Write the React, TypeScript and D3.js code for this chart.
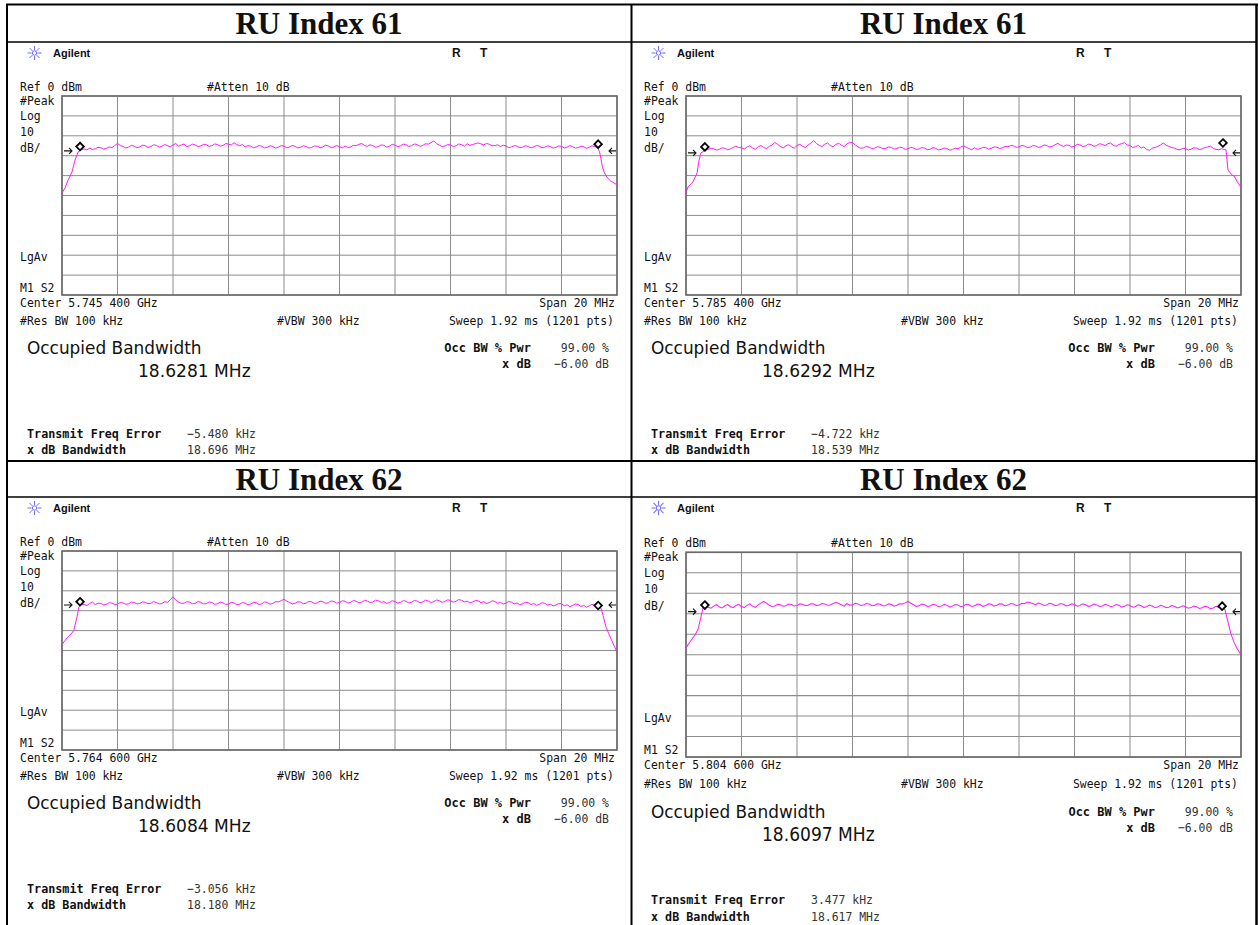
import * as d3 from 'd3';

// --- data ---
const titles = ['RU Index 61', 'RU Index 61', 'RU Index 62', 'RU Index 62'];
const centers = ['Center 5.745 400 GHz', 'Center 5.785 400 GHz', 'Center 5.764 600 GHz', 'Center 5.804 600 GHz'];
const occBw = ['18.6281 MHz', '18.6292 MHz', '18.6084 MHz', '18.6097 MHz'];
const freqErr = ['\u22125.480 kHz', '\u22124.722 kHz', '\u22123.056 kHz', '3.477 kHz'];
const xdbBw = ['18.696 MHz', '18.539 MHz', '18.180 MHz', '18.617 MHz'];

// flat part of each trace, dBm, sampled evenly from -9.2 to +9.2 MHz
const plateau61a = [
  -26.6, -27.1, -26.2, -26.9, -26.5, -25.8, -26.0, -26.7, -26.3, -25.6,
  -25.9, -24.9, -23.8, -24.9, -25.3, -26.1, -25.7, -24.8, -25.2, -26.0,
  -25.6, -24.7, -25.0, -25.9, -25.4, -24.5, -24.8, -25.7, -25.3, -24.4,
  -24.9, -25.6, -24.6, -23.9, -25.2, -24.6, -24.1, -25.5, -25.0, -24.2,
  -24.6, -25.4, -25.1, -24.3, -24.5, -25.3, -25.0, -24.1, -24.4, -25.2,
  -24.9, -23.9, -24.2, -24.6, -23.5, -24.4, -25.0, -24.4, -25.5, -24.9,
  -25.2, -26.0, -25.6, -24.9, -25.3, -26.1, -25.8, -25.0, -25.4, -26.2,
  -25.7, -24.9, -25.2, -26.0, -25.6, -24.8, -25.3, -26.1, -25.7, -25.0,
  -25.4, -26.2, -25.8, -25.1, -25.3, -26.0, -25.6, -24.7, -25.2, -25.9,
  -25.6, -24.9, -25.5, -26.1, -25.1, -25.9, -25.6, -24.8, -25.0, -24.3,
  -23.9, -24.8, -25.3, -24.5, -24.9, -25.8, -25.4, -24.6, -24.8, -25.7,
  -25.2, -24.3, -24.7, -25.5, -25.0, -24.2, -24.5, -25.4, -24.9, -24.1,
  -24.4, -25.3, -24.8, -24.0, -24.2, -23.4, -22.6, -24.0, -24.7, -25.5,
  -25.1, -24.4, -24.6, -25.4, -25.0, -24.1, -24.5, -25.2, -24.0, -24.8,
  -24.4, -23.9, -23.6, -24.1, -24.6, -23.8, -24.3, -25.0, -24.9, -24.5,
  -25.4, -24.7, -25.1, -25.9, -25.6, -24.9, -25.2, -26.0, -25.7, -25.0,
  -25.3, -26.1, -25.6, -24.9, -25.2, -26.0, -25.7, -25.0, -25.4, -26.2,
  -25.8, -25.1, -25.3, -26.1, -25.7, -24.9, -25.4, -26.2, -25.9, -25.2,
  -25.5, -26.3, -25.8, -25.0, -25.4,
];
const plateau61b = [
  -26.9, -26.2, -26.5, -27.2, -26.8, -26.0, -26.3, -27.0, -26.6, -25.9,
  -25.2, -25.9, -26.0, -26.7, -25.6, -25.0, -26.1, -26.8, -25.5, -24.9,
  -25.9, -26.4, -25.3, -24.6, -23.4, -24.3, -25.4, -26.1, -25.0, -24.5,
  -25.5, -26.2, -24.9, -24.3, -25.3, -25.9, -24.6, -23.7, -22.4, -23.9,
  -24.8, -25.4, -24.2, -23.6, -24.9, -25.5, -24.4, -23.7, -24.8, -25.4,
  -24.1, -23.2, -23.4, -24.6, -25.6, -26.3, -26.0, -25.3, -25.7, -26.4,
  -26.2, -25.5, -25.8, -26.5, -26.3, -25.6, -25.9, -26.7, -26.4, -25.7,
  -26.0, -26.8, -26.5, -25.8, -26.1, -26.9, -26.6, -25.9, -26.2, -27.0,
  -26.7, -26.0, -26.3, -27.1, -26.8, -26.1, -26.4, -27.2, -26.9, -26.2,
  -26.5, -25.7, -25.0, -25.8, -26.4, -27.0, -26.0, -26.8, -26.5, -25.8,
  -25.9, -26.7, -26.3, -25.6, -25.7, -26.4, -26.1, -25.3, -25.5, -24.9,
  -25.0, -25.8, -25.6, -24.8, -25.2, -25.9, -25.7, -24.9, -25.1, -25.8,
  -25.5, -24.6, -24.9, -25.6, -25.3, -24.5, -23.8, -24.7, -25.4, -24.6,
  -24.8, -25.6, -25.2, -24.3, -24.6, -25.4, -25.1, -24.2, -24.5, -25.3,
  -24.9, -24.0, -24.3, -24.9, -24.0, -23.6, -24.8, -25.3, -24.4, -23.9,
  -23.5, -24.6, -24.9, -25.8, -25.5, -24.8, -26.1, -25.6, -26.9, -27.3,
  -26.3, -25.8, -25.4, -24.6, -23.6, -24.7, -25.3, -25.9, -26.2, -26.8,
  -27.0, -26.3, -26.4, -27.1, -26.8, -26.0, -26.2, -26.9, -26.6, -25.9,
  -25.6, -25.2, -26.3, -26.8, -27.0,
];
const plateau62a = [
  -26.8, -27.4, -26.3, -25.7, -26.9, -26.2, -26.4, -27.1, -26.8, -26.0,
  -26.2, -26.9, -26.7, -25.9, -26.1, -26.8, -26.5, -25.7, -25.9, -26.6,
  -26.4, -25.6, -25.8, -26.5, -26.3, -25.4, -25.9, -26.6, -26.4, -25.5,
  -25.8, -24.6, -23.0, -24.7, -25.6, -26.4, -26.2, -25.5, -25.7, -26.5,
  -26.3, -25.4, -25.8, -26.6, -26.4, -25.6, -25.9, -26.8, -26.5, -25.7,
  -26.0, -26.9, -26.6, -25.8, -26.1, -27.0, -26.7, -25.9, -26.2, -27.0,
  -26.6, -25.8, -26.0, -26.9, -26.5, -25.6, -25.9, -26.7, -26.3, -25.4,
  -25.6, -24.9, -24.3, -25.2, -25.8, -26.6, -26.3, -25.5, -25.7, -26.5,
  -26.2, -25.3, -25.6, -26.4, -26.1, -25.2, -25.5, -26.3, -26.0, -25.1,
  -25.4, -26.2, -25.9, -25.0, -25.3, -26.1, -25.8, -24.9, -25.2, -26.0,
  -25.7, -24.8, -25.1, -25.9, -25.6, -24.7, -25.0, -25.8, -25.5, -26.3,
  -25.9, -25.0, -25.4, -26.2, -25.8, -24.9, -25.3, -26.1, -25.7, -24.8,
  -25.2, -26.0, -25.6, -24.7, -25.1, -25.9, -25.5, -24.6, -25.0, -25.8,
  -25.4, -24.5, -24.9, -25.7, -25.3, -24.4, -24.8, -25.6, -25.2, -26.1,
  -25.6, -24.8, -25.1, -26.0, -25.5, -26.4, -25.9, -25.0, -25.4, -26.3,
  -25.8, -26.7, -26.2, -25.4, -25.7, -26.6, -26.1, -27.0, -26.5, -25.7,
  -26.0, -26.9, -26.4, -27.3, -26.8, -26.0, -26.3, -27.2, -26.7, -27.6,
  -27.1, -26.4, -26.6, -27.5, -27.0, -28.0, -27.4, -26.6, -26.9, -27.9,
  -27.3, -28.2, -27.6, -26.8, -27.2,
];
const plateau62b = [
  -26.8, -27.3, -26.3, -25.6, -26.7, -27.2, -26.1, -25.5, -26.6, -27.1,
  -26.0, -25.4, -26.5, -27.0, -25.9, -25.2, -26.3, -26.9, -25.7, -24.8,
  -24.0, -24.9, -25.8, -26.5, -26.2, -25.4, -25.6, -26.3, -26.1, -25.3,
  -25.5, -26.2, -26.0, -25.2, -25.4, -26.1, -25.9, -25.1, -25.3, -26.0,
  -25.8, -25.0, -25.2, -25.9, -25.7, -25.0, -24.4, -25.0, -25.6, -26.3,
  -25.1, -25.8, -25.7, -24.9, -25.2, -26.0, -25.8, -25.0, -25.3, -26.1,
  -25.9, -25.1, -25.4, -26.2, -26.0, -25.2, -25.5, -26.3, -25.9, -25.1,
  -25.3, -24.7, -24.0, -24.9, -25.6, -26.4, -26.1, -25.3, -25.6, -26.5,
  -26.2, -25.4, -25.7, -26.6, -26.3, -25.5, -25.8, -26.7, -26.3, -25.5,
  -25.7, -26.6, -26.2, -25.4, -25.6, -26.5, -26.1, -25.3, -25.5, -26.4,
  -26.0, -25.2, -25.4, -26.3, -25.9, -25.1, -25.3, -26.2, -25.8, -25.0,
  -25.2, -26.1, -25.7, -24.9, -25.1, -24.3, -24.6, -25.0, -25.6, -24.8,
  -25.2, -26.0, -25.7, -24.9, -25.3, -26.1, -25.8, -25.0, -25.4, -26.2,
  -25.9, -25.1, -25.5, -26.3, -26.0, -25.2, -25.6, -26.4, -26.1, -25.3,
  -25.7, -26.5, -26.2, -25.4, -25.8, -26.6, -26.3, -25.5, -25.9, -26.7,
  -26.4, -25.6, -26.0, -26.8, -26.5, -25.7, -26.1, -26.9, -26.6, -25.8,
  -26.2, -27.0, -26.7, -25.9, -26.3, -27.1, -26.8, -26.0, -26.4, -27.2,
  -26.9, -26.1, -26.5, -27.3, -27.0, -26.2, -26.6, -27.4, -27.1, -26.3,
  -26.7, -27.5, -27.2, -26.4, -26.9,
];
const plateaus = [plateau61a, plateau61b, plateau62a, plateau62b];

// band edges: [MHz, dBm]
const leftEdges = [
  [[-10, -48.7], [-9.89, -46.2], [-9.78, -42.2], [-9.64, -38.2], [-9.53, -32.2], [-9.42, -28.1], [-9.3, -27.1]],
  [[-10, -48.7], [-9.93, -45.7], [-9.75, -43.2], [-9.6, -38.7], [-9.53, -32.2], [-9.46, -28.6], [-9.3, -27.1]],
  [[-10, -47.0], [-9.82, -43.7], [-9.64, -41.2], [-9.57, -39.7], [-9.46, -33.2], [-9.39, -28.1], [-9.3, -26.9]],
  [[-10, -46.7], [-9.86, -43.8], [-9.68, -40.4], [-9.57, -37.9], [-9.46, -31.6], [-9.39, -27.2], [-9.3, -26.6]],
];
const rightEdges = [
  [[9.3, -26.0], [9.37, -28.0], [9.41, -30.7], [9.48, -36.0], [9.55, -38.7], [9.66, -41.2], [9.77, -42.7], [9.84, -43.2], [10, -44.7]],
  [[9.3, -26.5], [9.46, -27.1], [9.53, -37.2], [9.68, -39.7], [9.75, -40.2], [9.86, -43.0], [10, -45.9]],
  [[9.3, -27.8], [9.42, -28.6], [9.5, -32.5], [9.6, -38.0], [9.7, -41.5], [9.8, -44.6], [9.9, -47.8], [10, -50.8]],
  [[9.3, -27.0], [9.42, -28.0], [9.53, -34.0], [9.64, -40.0], [9.75, -44.0], [9.86, -47.0], [10, -50.0]],
];
const markers = [
  [[-9.35, -25.4], [9.32, -24.2]],
  [[-9.32, -25.6], [9.35, -23.6]],
  [[-9.35, -25.5], [9.32, -27.4]],
  [[-9.32, -25.8], [9.32, -26.3]],
];
const arrowLevels = [-27.6, -28.6, -27.1, -29.0];

// where each screenshot sits in the table (last one is slightly stretched)
const placements = [
  { dx: 0, dy: 0, sy: 1 },
  { dx: 624, dy: 0, sy: 1 },
  { dx: 0, dy: 455, sy: 1 },
  { dx: 624, dy: 453.5, sy: 1.029 },
];

const MONO = '"DejaVu Sans Mono", monospace';
const SANS = '"DejaVu Sans", sans-serif';
const ARIAL = '"Liberation Sans", Arial, sans-serif';

function T({ x, y, s, anchor = 'start', size = 12.5, sx = 0.915, bold = false, family = MONO, fill = '#111' }: any) {
  return (
    <text
      transform={`translate(${x},${y}) scale(${sx},1)`}
      textAnchor={anchor}
      fontFamily={family}
      fontSize={size}
      fontWeight={bold ? 'bold' : 'normal'}
      fill={fill}
    >
      {s}
    </text>
  );
}

function Star({ cx, cy }: { cx: number; cy: number }) {
  const rays = d3.range(0, 8).map((k) => (k * Math.PI) / 4);
  return (
    <g stroke="#6d6dff" strokeWidth={1}>
      {rays.map((a, k) => (
        <line key={k} x1={cx + Math.cos(a) * 3} y1={cy + Math.sin(a) * 3} x2={cx + Math.cos(a) * 7} y2={cy + Math.sin(a) * 7} />
      ))}
      <circle cx={cx} cy={cy} r={2.2} fill="none" />
    </g>
  );
}

function Panel({ idx }: { idx: number }) {
  const { dx, dy, sy } = placements[idx];
  const x = d3.scaleLinear().domain([-10, 10]).range([62, 617]);
  const y = d3.scaleLinear().domain([-100, 0]).range([295, 96]);

  const flat = plateaus[idx];
  const fStep = 18.4 / (flat.length - 1);
  const trace = [
    ...leftEdges[idx],
    ...flat.map((v, i) => [-9.2 + i * fStep, v]),
    ...rightEdges[idx],
  ];
  const line = d3
    .line<number[]>()
    .x((d) => x(d[0]))
    .y((d) => y(d[1]));

  const xTicks = d3.range(-10, 10.01, 2);
  const yTicks = d3.range(-100, 0.01, 10);
  const ay = y(arrowLevels[idx]);

  return (
    <g transform={`translate(${dx},${dy}) scale(1,${sy})`}>
      <Star cx={34.5} cy={53} />
      <text x={53} y={57} fontFamily={ARIAL} fontSize={11} fontWeight="bold" fill="#111">
        Agilent
      </text>
      <text x={452} y={57} fontFamily={ARIAL} fontSize={12} fontWeight="bold" fill="#111">R</text>
      <text x={480} y={57} fontFamily={ARIAL} fontSize={12} fontWeight="bold" fill="#111">T</text>

      <T x={20} y={90.5} s="Ref 0 dBm" />
      <T x={207} y={90.5} s="#Atten 10 dB" />
      <T x={20} y={104.5} s="#Peak" />
      <T x={20} y={120} s="Log" />
      <T x={20} y={136} s="10" />
      <T x={20} y={152} s="dB/" />
      <T x={20} y={261} s="LgAv" />
      <T x={20} y={292} s="M1 S2" />

      {/* grid */}
      <g stroke="#8c8c8c" strokeWidth={1}>
        {xTicks.map((t) => (
          <line key={'x' + t} x1={x(t)} x2={x(t)} y1={y(-100)} y2={y(0)} />
        ))}
        {yTicks.map((t) => (
          <line key={'y' + t} x1={x(-10)} x2={x(10)} y1={y(t)} y2={y(t)} />
        ))}
      </g>
      <rect x={x(-10)} y={y(0)} width={x(10) - x(-10)} height={y(-100) - y(0)} fill="none" stroke="#6a6a6a" strokeWidth={1.6} />

      <path d={line(trace as number[][]) || ''} fill="none" stroke="#ff1aff" strokeWidth={1} />

      {/* reference arrows */}
      <g stroke="#111" strokeWidth={1.1} fill="none">
        <path d={`M${x(-10) + 2},${ay} H${x(-10) + 10} M${x(-10) + 7},${ay - 3} L${x(-10) + 10},${ay} L${x(-10) + 7},${ay + 3}`} />
        <path d={`M${x(10) - 1},${ay} H${x(10) - 8} M${x(10) - 5},${ay - 3} L${x(10) - 8},${ay} L${x(10) - 5},${ay + 3}`} />
      </g>
      {markers[idx].map((m, k) => (
        <path
          key={k}
          transform={`translate(${x(m[0])},${y(m[1])})`}
          d="M0,-3.8 L3.8,0 L0,3.8 L-3.8,0 Z"
          fill="#fff"
          stroke="#000"
          strokeWidth={1.8}
        />
      ))}

      <T x={20} y={307} s={centers[idx]} />
      <T x={615} y={307} s="Span 20 MHz" anchor="end" />
      <T x={20} y={325} s="#Res BW 100 kHz" />
      <T x={277} y={325} s="#VBW 300 kHz" />
      <T x={614} y={325} s="Sweep 1.92 ms (1201 pts)" anchor="end" />

      <T x={27} y={354} s="Occupied Bandwidth" family={SANS} size={18} sx={0.94} />
      <T x={138} y={377} s={occBw[idx]} family={SANS} size={18} sx={0.95} />

      <T x={531} y={352} s="Occ BW % Pwr" anchor="end" bold sx={0.96} />
      <T x={609} y={352} s="99.00 %" anchor="end" fill="#333" />
      <T x={531} y={368} s="x dB" anchor="end" bold sx={0.96} />
      <T x={609} y={368} s={'\u22126.00 dB'} anchor="end" fill="#333" />

      <T x={27} y={438} s="Transmit Freq Error" bold sx={0.94} />
      <T x={187} y={438} s={freqErr[idx]} fill="#333" />
      <T x={27} y={454} s="x dB Bandwidth" bold sx={0.94} />
      <T x={187} y={454} s={xdbBw[idx]} fill="#333" />
    </g>
  );
}

export default function App() {
  const W = 1259;
  const H = 925;
  const colCenters = [319, 943.5];
  return (
    <div style={{ position: 'absolute', left: 0, top: 0 }}>
      <svg width={W} height={H} style={{ display: 'block', background: '#fff' }}>
        {[0, 1, 2, 3].map((i) => (
          <Panel key={i} idx={i} />
        ))}
        {titles.map((t, i) => (
          <text
            key={i}
            x={colCenters[i % 2]}
            y={i < 2 ? 34 : 490}
            textAnchor="middle"
            fontFamily='"Liberation Serif", "Times New Roman", serif'
            fontWeight="bold"
            fontSize={31}
            fill="#111"
          >
            {t}
          </text>
        ))}
        {/* table rules */}
        <g stroke="#000">
          <line x1={6} x2={1258} y1={4.5} y2={4.5} strokeWidth={2} />
          <line x1={7} x2={7} y1={4} y2={925} strokeWidth={2} />
          <line x1={1256.5} x2={1256.5} y1={4} y2={925} strokeWidth={2.5} />
          <line x1={631.5} x2={631.5} y1={4} y2={925} strokeWidth={2} />
          <line x1={7} x2={1257} y1={42} y2={42} strokeWidth={1.6} />
          <line x1={7} x2={1257} y1={461} y2={461} strokeWidth={2} />
          <line x1={7} x2={1257} y1={497} y2={497} strokeWidth={1.6} />
        </g>
      </svg>
    </div>
  );
}
